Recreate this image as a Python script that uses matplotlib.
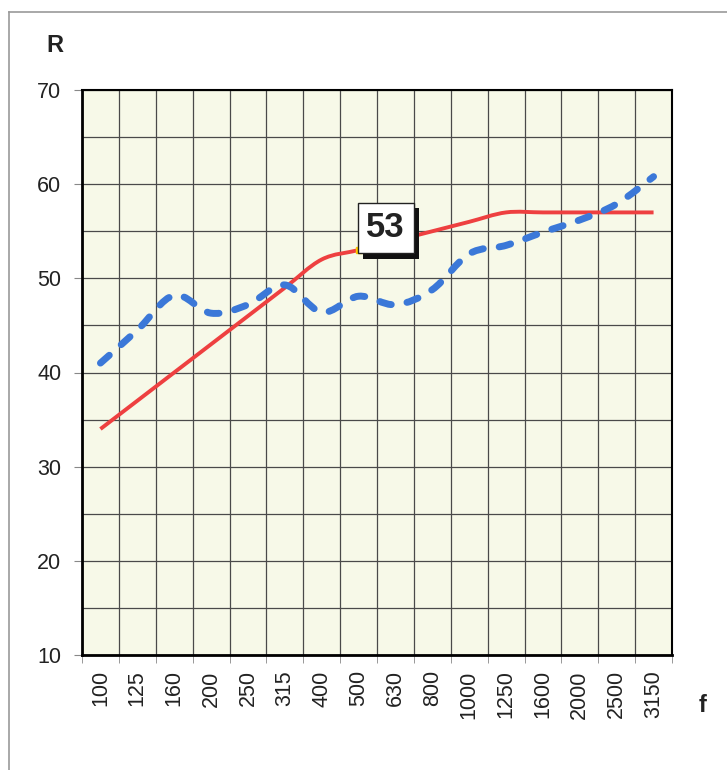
import numpy as np
import matplotlib
matplotlib.use("Agg")
import matplotlib.pyplot as plt
from matplotlib.path import Path
from matplotlib.patches import PathPatch
from matplotlib.lines import Line2D
import matplotlib.patheffects as pe

plt.rcParams['font.family'] = ['Liberation Sans', 'DejaVu Sans']

# data
freqs = ['100', '125', '160', '200', '250', '315', '400', '500',
         '630', '800', '1000', '1250', '1600', '2000', '2500', '3150']
ref_curve = [34, 37, 40, 43, 46, 49, 52, 53, 54, 55, 56, 57, 57, 57, 57, 57]
measured = [41, 44.5, 48.2, 46.3, 47.2, 49.3, 46.4, 48.1, 47.2, 48.8,
            52.6, 53.5, 54.9, 56.2, 57.9, 60.8]
label_idx = 7
label_val = 53


def smooth_path(xs, ys):
    # Catmull-Rom -> cubic bezier, like a "smoothed line" in a spreadsheet
    pts = np.column_stack([xs, ys]).astype(float)
    n = len(pts)
    verts = [pts[0]]
    codes = [Path.MOVETO]
    for i in range(n - 1):
        p0 = pts[i - 1] if i > 0 else pts[i]
        p1 = pts[i]
        p2 = pts[i + 1]
        p3 = pts[i + 2] if i + 2 < n else pts[i + 1]
        c1 = p1 + (p2 - p0) / 6
        c2 = p2 - (p3 - p1) / 6
        verts += [c1, c2, p2]
        codes += [Path.CURVE4] * 3
    return Path(verts, codes)


fig = plt.figure(figsize=(7.27, 7.70), dpi=100)
ax = fig.add_axes([82 / 727, 115 / 770, 590 / 727, 565 / 770])
ax.set_facecolor('#f7f9e8')

x = np.arange(len(freqs))
ax.set_xlim(-0.5, len(freqs) - 0.5)
ax.set_ylim(10, 70)

ax.set_yticks(np.arange(10, 71, 10))
ax.set_yticks(np.arange(15, 70, 10), minor=True)
ax.set_xticks(x)
ax.set_xticklabels(freqs, rotation=90)
ax.set_xticks(np.arange(-0.5, len(freqs), 1), minor=True)

ax.grid(which='minor', axis='x', color='#4a4a4a', linewidth=0.9)
ax.grid(which='both', axis='y', color='#4a4a4a', linewidth=0.9)
ax.set_axisbelow(True)

ax.tick_params(axis='y', which='major', length=6, color='#888888',
               labelsize=15.5, pad=9, labelcolor='#222222')
ax.tick_params(axis='y', which='minor', length=0)
ax.tick_params(axis='x', which='major', length=0, labelsize=15.5, pad=11,
               labelcolor='#222222')
ax.tick_params(axis='x', which='minor', length=6, color='#888888')

for side in ['left', 'bottom']:
    ax.spines[side].set_linewidth(2.0)
for side in ['top', 'right']:
    ax.spines[side].set_linewidth(1.5)

# reference curve (red)
ax.add_patch(PathPatch(smooth_path(x, ref_curve), fill=False,
                       edgecolor='#ee4040', linewidth=2.8, zorder=3))

# measured curve (blue, dashed)
ax.add_patch(PathPatch(smooth_path(x, measured), fill=False,
                       edgecolor='#3b78d8', linewidth=5, zorder=4,
                       linestyle=(0, (1.7, 2.3)), capstyle='round'))

ax.plot(x[label_idx], ref_curve[label_idx], marker='s', markersize=4,
        color='#ffcc00', zorder=5)

# label box with a hard black shadow
lbl = ax.annotate(str(label_val), xy=(x[label_idx], ref_curve[label_idx]),
                  xytext=(19.5, 16), textcoords='offset points',
                  ha='center', va='center', fontsize=25, fontweight='bold',
                  color='#222222',
                  bbox=dict(boxstyle='square,pad=0.25', fc='white',
                            ec='#222222', lw=1),
                  zorder=7)
lbl.get_bbox_patch().set_path_effects([
    pe.SimplePatchShadow(offset=(4, -4), shadow_rgbFace='#111111', alpha=1),
    pe.Normal()])

fig.text(55 / 727, 1 - 45 / 770, 'R', fontsize=17, fontweight='bold',
         ha='center', va='center', color='#222222')
fig.text(703 / 727, 1 - 705 / 770, 'f', fontsize=17, fontweight='bold',
         ha='center', va='center', color='#222222')

# outer frame
fig.add_artist(Line2D([9 / 727, 9 / 727], [0, 1 - 12 / 770],
                      transform=fig.transFigure, color='#9a9a9a', lw=1.2))
fig.add_artist(Line2D([9 / 727, 1], [1 - 12 / 770, 1 - 12 / 770],
                      transform=fig.transFigure, color='#9a9a9a', lw=1.2))

fig.savefig('out.png', dpi=100)
